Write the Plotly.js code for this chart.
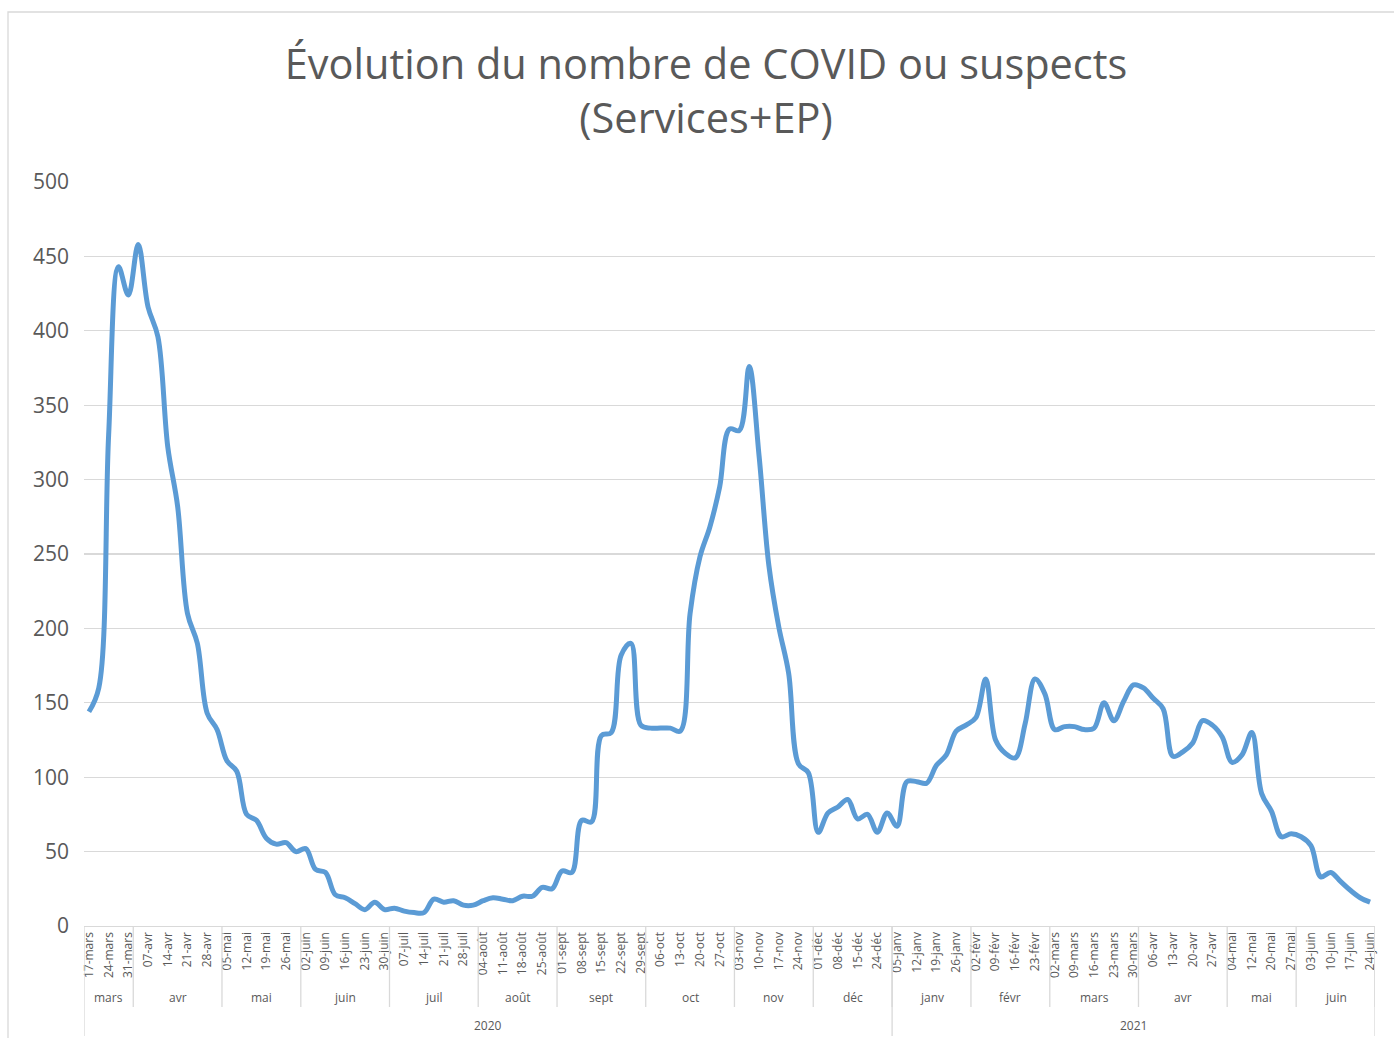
<!DOCTYPE html>
<html>
<head>
<meta charset="utf-8">
<script src="https://cdn.plot.ly/plotly-3.0.1.min.js"></script>
<style>html,body{margin:0;padding:0;background:#fff;}#chart{width:1394px;height:1038px;}</style>
</head>
<body>
<div id="chart"></div>
<script>
// Category dates (twice weekly); every other one is shown as a tick label
const dates = [
  '17-mars','20-mars','24-mars','27-mars','31-mars',
  '03-avr','07-avr','10-avr','14-avr','17-avr','21-avr','24-avr','28-avr','30-avr',
  '05-mai','07-mai','12-mai','15-mai','19-mai','22-mai','26-mai','29-mai',
  '02-juin','05-juin','09-juin','12-juin','16-juin','19-juin','23-juin','26-juin','30-juin',
  '03-juil','07-juil','10-juil','14-juil','17-juil','21-juil','24-juil','28-juil','31-juil',
  '04-août','07-août','11-août','14-août','18-août','21-août','25-août','28-août',
  '01-sept','04-sept','08-sept','11-sept','15-sept','18-sept','22-sept','25-sept','29-sept',
  '02-oct','06-oct','09-oct','13-oct','16-oct','20-oct','23-oct','27-oct','30-oct',
  '03-nov','06-nov','10-nov','13-nov','17-nov','20-nov','24-nov','27-nov',
  '01-déc','04-déc','08-déc','11-déc','15-déc','18-déc','24-déc','29-déc',
  '05-janv','08-janv','12-janv','15-janv','19-janv','22-janv','26-janv','29-janv',
  '02-févr','05-févr','09-févr','12-févr','16-févr','19-févr','23-févr','26-févr',
  '02-mars','05-mars','09-mars','12-mars','16-mars','19-mars','23-mars','26-mars','30-mars',
  '02-avr','06-avr','09-avr','13-avr','16-avr','20-avr','23-avr','27-avr','30-avr',
  '04-mai','07-mai','12-mai','17-mai','20-mai','25-mai','27-mai',
  '01-juin','03-juin','07-juin','10-juin','14-juin','17-juin','21-juin','24-juin'
];
const monthNames  = ['mars','avr','mai','juin','juil','août','sept','oct','nov','déc',
                     'janv','févr','mars','avr','mai','juin'];
const monthCounts = [5,9,8,9,9,8,9,9,8,8, 8,8,9,9,7,8];
const yearNames   = ['2020','2021'];
const yearMonths  = [10,6];

const values = [
  144,160,330,443,424,458,416,396,322,282,
  210,190,143,132,111,104,75,71,59,55,
  56,50,52,38,36,21,19,15,11,16,
  11,12,10,9,9,18,16,17,14,14,
  17,19,18,17,20,20,26,25,37,36,
  71,70,128,130,182,190,135,133,133,133,
  131,210,248,268,295,334,333,376,316,242,
  201,170,109,103,63,76,80,85,72,75,
  63,76,67,97,97,96,108,115,131,135,
  140,166,125,116,113,136,166,156,132,134,
  134,132,133,150,138,151,162,160,153,146,
  114,117,123,138,135,127,110,115,130,89,
  77,60,62,60,54,33,36,30,24,19,
  16
];

const idx = values.map((v,i)=>i);
const tickvals = idx.filter(i=>i%2===0);
const ticktext = tickvals.map(i=>dates[i]);

const grey = '#595959';
const lineGrey = '#D9D9D9';
const plotH = 744;
const px = p => -p/plotH; // pixels below the axis -> paper y

const shapes = [];
const annotations = [];
// month groups
let start = 0;
monthNames.forEach((m,k)=>{
  const end = start + monthCounts[k];
  annotations.push({xref:'x', yref:'paper', x:(start+end-1)/2, y:px(72), text:m,
    showarrow:false, font:{family:'Open Sans, sans-serif', size:12, color:grey}, yanchor:'middle'});
  shapes.push({type:'line', xref:'x', yref:'paper', x0:end-0.5, x1:end-0.5, y0:0, y1:px(81),
    line:{color:lineGrey, width:1.3}});
  start = end;
});
// year groups
let ms = 0, cs = 0;
yearNames.forEach((y,k)=>{
  let cnt = 0;
  for (let j=ms;j<ms+yearMonths[k];j++) cnt += monthCounts[j];
  const ce = cs + cnt;
  annotations.push({xref:'x', yref:'paper', x:(cs+ce-1)/2, y:px(99), text:y,
    showarrow:false, font:{family:'Open Sans, sans-serif', size:12, color:grey}, yanchor:'middle'});
  shapes.push({type:'line', xref:'x', yref:'paper', x0:ce-0.5, x1:ce-0.5, y0:0, y1:px(110),
    line:{color:lineGrey, width:1.3}});
  if (k===0) shapes.push({type:'line', xref:'x', yref:'paper', x0:cs-0.5, x1:cs-0.5, y0:0, y1:px(110),
    line:{color:lineGrey, width:1.3}});
  ms += yearMonths[k]; cs = ce;
});
// outer chart border
shapes.push({type:'rect', xref:'paper', yref:'paper', x0:(8-84)/1291, x1:(1400-84)/1291,
  y0:px(120), y1:(926-12)/plotH, line:{color:lineGrey, width:1.3}, layer:'below'});

const trace = {
  x: idx, y: values, type:'scatter', mode:'lines',
  line:{color:'#5B9BD5', width:5, shape:'spline', smoothing:1},
  hoverinfo:'skip'
};

const layout = {
  width:1394, height:1038,
  margin:{l:84, r:19, t:182, b:112},
  paper_bgcolor:'#fff', plot_bgcolor:'#fff',
  showlegend:false,
  title:{text:'Évolution du nombre de COVID ou suspects<br>(Services+EP)',
    font:{family:'Open Sans, sans-serif', size:41.5, color:grey},
    x:0.5065, xanchor:'center', y:0.924, yanchor:'top'},
  xaxis:{range:[-0.5, values.length-0.5], tickmode:'array', tickvals:tickvals, ticktext:ticktext,
    tickangle:-90, ticks:'', showgrid:false, zeroline:false, showline:true, linecolor:lineGrey, linewidth:1.3,
    tickfont:{family:'Open Sans, sans-serif', size:12, color:grey}, fixedrange:true},
  yaxis:{range:[0,500], dtick:50, showgrid:true, gridcolor:lineGrey, gridwidth:1.3, zeroline:false,
    showline:false, ticks:'', tickfont:{family:'Open Sans, sans-serif', size:21, color:grey},
    ticklabelstandoff:14, fixedrange:true},
  shapes:shapes, annotations:annotations
};

Plotly.newPlot('chart', [trace], layout, {displayModeBar:false, staticPlot:true});
</script>
</body>
</html>
